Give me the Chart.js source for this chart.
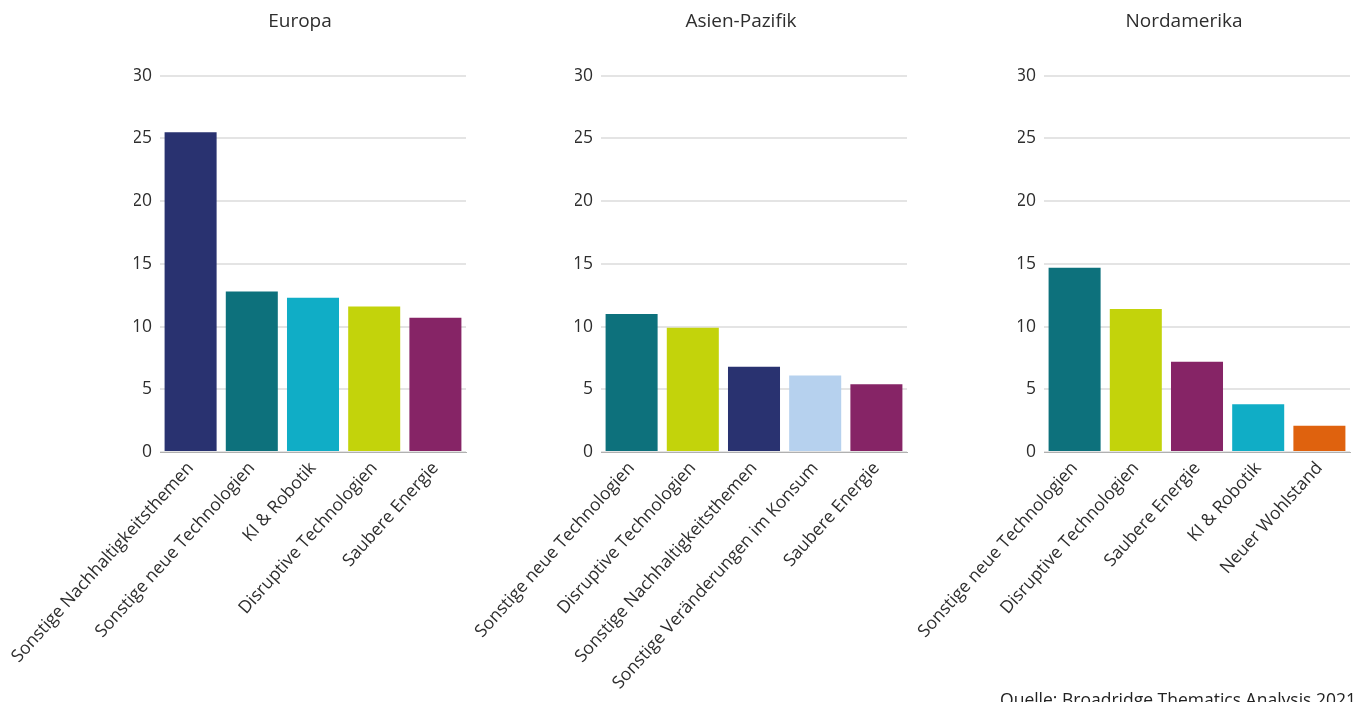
<!DOCTYPE html>
<html lang="de">
<head>
<meta charset="utf-8">
<title>Themen nach Region</title>
<script src="https://cdn.jsdelivr.net/npm/chart.js@4.4.1/dist/chart.umd.min.js"></script>
<style>
  html, body { margin: 0; padding: 0; background: #fff; }
  body { width: 1358px; height: 702px; position: relative; overflow: hidden; }
  canvas { position: absolute; top: 0; }
  #source {
    position: absolute; right: 2px; top: 687px;
    font: 17.5px "Open Sans", sans-serif; color: #222; white-space: nowrap;
  }
</style>
</head>
<body>
<canvas id="europa" width="480" height="702" style="left:0px"></canvas>
<canvas id="asien" width="480" height="702" style="left:441px"></canvas>
<canvas id="nordamerika" width="474" height="702" style="left:884px"></canvas>
<div id="source">Quelle: Broadridge Thematics Analysis 2021</div>

<script>
// Daten je Region
const europaLabels = ["Sonstige Nachhaltigkeitsthemen", "Sonstige neue Technologien", "KI & Robotik", "Disruptive Technologien", "Saubere Energie"];
const europaValues = [25.5, 12.8, 12.3, 11.6, 10.7];

const asienLabels = ["Sonstige neue Technologien", "Disruptive Technologien", "Sonstige Nachhaltigkeitsthemen", "Sonstige Veränderungen im Konsum", "Saubere Energie"];
const asienValues = [11.0, 9.9, 6.8, 6.1, 5.4];

const nordamerikaLabels = ["Sonstige neue Technologien", "Disruptive Technologien", "Saubere Energie", "KI & Robotik", "Neuer Wohlstand"];
const nordamerikaValues = [14.7, 11.4, 7.2, 3.8, 2.1];

const yTicks = [0, 5, 10, 15, 20, 25, 30];

// Farben je Thema
const themeColors = {
  "Sonstige Nachhaltigkeitsthemen": "#293270",
  "Sonstige neue Technologien": "#0d717c",
  "KI & Robotik": "#10adc6",
  "Disruptive Technologien": "#c3d30b",
  "Saubere Energie": "#862466",
  "Sonstige Veränderungen im Konsum": "#b6d1ee",
  "Neuer Wohlstand": "#df620e",
};

Chart.defaults.font.family = "'Open Sans', sans-serif";
Chart.defaults.font.size = 17.5;
Chart.defaults.color = "#2e2e2e";

function makePanel(canvasId, title, labels, values, padRight) {
  const ctx = document.getElementById(canvasId).getContext("2d");
  return new Chart(ctx, {
    type: "bar",
    data: {
      labels: labels,
      datasets: [{
        data: values,
        backgroundColor: labels.map(l => themeColors[l]),
        borderWidth: 0,
        categoryPercentage: 1,
        barPercentage: 0.85,
      }],
    },
    options: {
      responsive: false,
      maintainAspectRatio: false,
      animation: false,
      layout: {
        padding: { left: 134, right: padRight, top: 0, bottom: 0 },
      },
      plugins: {
        legend: { display: false },
        tooltip: { enabled: false },
        title: {
          display: true,
          text: title,
          color: "#2e2e2e",
          font: { size: 19, weight: "normal" },
          padding: { top: 10, bottom: 43 },
        },
      },
      scales: {
        x: {
          grid: { display: false, drawTicks: false },
          border: { display: true, color: "#b0b0b0", width: 1 },
          ticks: {
            maxRotation: 48,
            minRotation: 48,
            autoSkip: false,
            padding: 6,
          },
          afterFit: (scale) => {
            scale.height = 250;
            scale.paddingLeft = 0;
            scale.paddingRight = 0;
          },
        },
        y: {
          min: 0,
          max: 30,
          afterBuildTicks: (scale) => {
            scale.ticks = yTicks.map(v => ({ value: v }));
          },
          grid: { color: "#e4e4e4", lineWidth: 2, drawTicks: false },
          border: { display: false },
          ticks: { padding: 8 },
          afterFit: (scale) => {
            scale.width = 26;
          },
        },
      },
    },
  });
}

makePanel("europa", "Europa", europaLabels, europaValues, 14);
makePanel("asien", "Asien-Pazifik", asienLabels, asienValues, 14);
makePanel("nordamerika", "Nordamerika", nordamerikaLabels, nordamerikaValues, 8);
</script>
</body>
</html>
